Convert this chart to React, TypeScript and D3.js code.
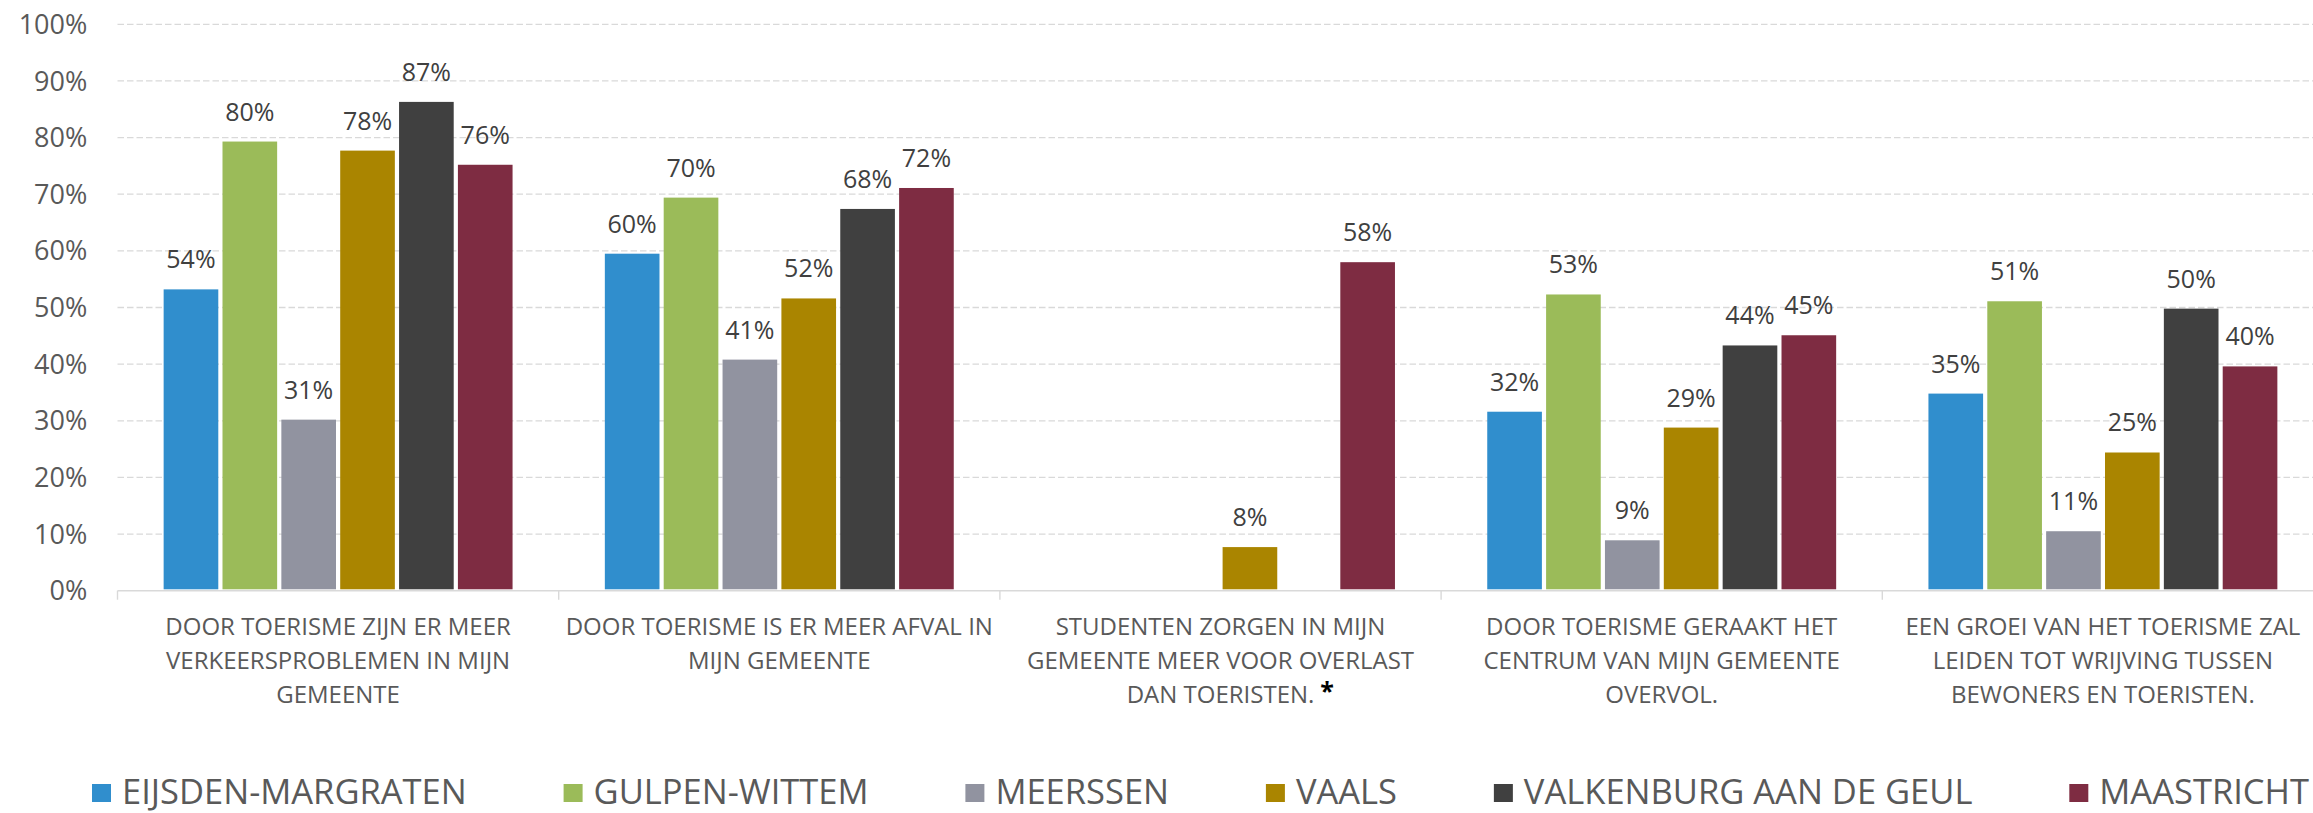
import * as d3 from "d3";
import { useEffect, useRef } from "react";

// category labels, already split in lines like the source chart
const categories = [
  ["DOOR TOERISME ZIJN ER MEER", "VERKEERSPROBLEMEN IN MIJN", "GEMEENTE"],
  ["DOOR TOERISME IS ER MEER AFVAL IN", "MIJN GEMEENTE"],
  ["STUDENTEN ZORGEN IN MIJN", "GEMEENTE MEER VOOR OVERLAST", "DAN TOERISTEN."],
  ["DOOR TOERISME GERAAKT HET", "CENTRUM VAN MIJN GEMEENTE", "OVERVOL."],
  ["EEN GROEI VAN HET TOERISME ZAL", "LEIDEN TOT WRIJVING TUSSEN", "BEWONERS EN TOERISTEN."],
];

const seriesNames = [
  "EIJSDEN-MARGRATEN",
  "GULPEN-WITTEM",
  "MEERSSEN",
  "VAALS",
  "VALKENBURG AAN DE GEUL",
  "MAASTRICHT",
];
const seriesColors = ["#308ECD", "#9BBB59", "#9193A0", "#AA8500", "#404040", "#7E2C42"];

// bar heights (share of respondents), null = no bar
const eijsden = [0.532, 0.595, null, 0.316, 0.348];
const gulpen = [0.793, 0.694, null, 0.523, 0.511];
const meerssen = [0.302, 0.408, null, 0.089, 0.105];
const vaals = [0.777, 0.516, 0.077, 0.288, 0.244];
const valkenburg = [0.863, 0.674, null, 0.433, 0.498];
const maastricht = [0.752, 0.711, 0.58, 0.451, 0.396];

// data labels as printed on the chart
const eijsdenLabels = ["54%", "60%", null, "32%", "35%"];
const gulpenLabels = ["80%", "70%", null, "53%", "51%"];
const meerssenLabels = ["31%", "41%", null, "9%", "11%"];
const vaalsLabels = ["78%", "52%", "8%", "29%", "25%"];
const valkenburgLabels = ["87%", "68%", null, "44%", "50%"];
const maastrichtLabels = ["76%", "72%", "58%", "45%", "40%"];

const yTicks = [0, 0.1, 0.2, 0.3, 0.4, 0.5, 0.6, 0.7, 0.8, 0.9, 1];

const WIDTH = 2313;
const HEIGHT = 813;
const FONT = "'Open Sans', 'DejaVu Sans', sans-serif";

export default function App() {
  const svgRef = useRef<SVGSVGElement>(null);

  useEffect(() => {
    document.body.style.margin = "0";
    const svg = d3.select(svgRef.current);
    svg.selectAll("*").remove();
    svg.attr("width", WIDTH).attr("height", HEIGHT).style("font-family", FONT);

    const values = [eijsden, gulpen, meerssen, vaals, valkenburg, maastricht];
    const labels = [eijsdenLabels, gulpenLabels, meerssenLabels, vaalsLabels, valkenburgLabels, maastrichtLabels];

    const plot = { left: 117.5, right: 2323.5, top: 24.3, bottom: 590.7 };

    const y = d3.scaleLinear().domain([0, 1]).range([plot.bottom, plot.top]);
    const x0 = d3
      .scaleBand<number>()
      .domain(d3.range(categories.length))
      .range([plot.left, plot.right])
      .padding(0);
    const x1 = d3
      .scaleBand<number>()
      .domain(d3.range(seriesNames.length))
      .range([0, x0.bandwidth()])
      .paddingInner(0.0714)
      .paddingOuter(0.784);

    // gridlines
    svg
      .append("g")
      .selectAll("line")
      .data(yTicks.filter((t) => t > 0))
      .enter()
      .append("line")
      .attr("x1", plot.left)
      .attr("x2", WIDTH)
      .attr("y1", (d) => y(d))
      .attr("y2", (d) => y(d))
      .attr("stroke", "#D9D9D9")
      .attr("stroke-width", 1.3)
      .attr("stroke-dasharray", "6.5,3");

    // y tick labels
    svg
      .append("g")
      .selectAll("text")
      .data(yTicks)
      .enter()
      .append("text")
      .attr("x", 87.3)
      .attr("y", (d) => y(d) + 27 * 0.357)
      .attr("text-anchor", "end")
      .attr("font-size", 27)
      .attr("fill", "#595959")
      .text((d) => d3.format(".0%")(d));

    // bars
    const groups = svg
      .append("g")
      .selectAll("g")
      .data(seriesNames)
      .enter()
      .append("g")
      .attr("fill", (_, i) => seriesColors[i]);

    groups.each(function (_, si) {
      const g = d3.select(this);
      const pts = values[si]
        .map((v, ci) => ({ v, ci, label: labels[si][ci] }))
        .filter((d) => d.v !== null) as { v: number; ci: number; label: string }[];
      g.selectAll("rect")
        .data(pts)
        .enter()
        .append("rect")
        .attr("x", (d) => (x0(d.ci) ?? 0) + (x1(si) ?? 0))
        .attr("y", (d) => y(d.v))
        .attr("width", x1.bandwidth())
        .attr("height", (d) => plot.bottom - 1.4 - y(d.v));
    });

    // x axis line and category separators
    svg
      .append("line")
      .attr("x1", plot.left)
      .attr("x2", WIDTH)
      .attr("y1", plot.bottom)
      .attr("y2", plot.bottom)
      .attr("stroke", "#D9D9D9")
      .attr("stroke-width", 1.4);
    svg
      .append("g")
      .selectAll("line")
      .data(d3.range(categories.length + 1))
      .enter()
      .append("line")
      .attr("x1", (d) => plot.left + d * x0.step())
      .attr("x2", (d) => plot.left + d * x0.step())
      .attr("y1", plot.bottom)
      .attr("y2", plot.bottom + 9)
      .attr("stroke", "#D9D9D9")
      .attr("stroke-width", 1.4);

    // data labels
    groups.each(function (_, si) {
      const g = d3.select(svgRef.current).append("g");
      const pts = values[si]
        .map((v, ci) => ({ v, ci, label: labels[si][ci] }))
        .filter((d) => d.v !== null) as { v: number; ci: number; label: string }[];
      g.selectAll("text")
        .data(pts)
        .enter()
        .append("text")
        .attr("x", (d) => (x0(d.ci) ?? 0) + (x1(si) ?? 0) + x1.bandwidth() / 2)
        .attr("y", (d) => y(d.v) - 21)
        .attr("text-anchor", "middle")
        .attr("font-size", 25)
        .attr("fill", "#404040")
        .text((d) => d.label);
    });

    // category labels
    const cat = svg
      .append("g")
      .selectAll("text")
      .data(categories)
      .enter()
      .append("text")
      .attr("text-anchor", "middle")
      .attr("font-size", 24)
      .attr("fill", "#595959");
    cat
      .selectAll("tspan")
      .data((d, i) => d.map((line) => ({ line, i })))
      .enter()
      .append("tspan")
      .attr("x", (d) => (x0(d.i) ?? 0) + x0.bandwidth() / 2)
      .attr("y", (_, j) => plot.bottom + 44.3 + j * 34)
      .text((d) => d.line);

    // footnote asterisk after the third category
    const thirdLast = cat
      .filter((_, i) => i === 2)
      .selectAll<SVGTSpanElement, unknown>("tspan")
      .nodes()
      .pop();
    if (thirdLast) {
      const bb = thirdLast.getBBox();
      svg
        .append("text")
        .attr("x", bb.x + bb.width + 6)
        .attr("y", plot.bottom + 44.3 + 2 * 34 - 3)
        .attr("font-size", 25)
        .attr("font-weight", "bold")
        .attr("fill", "#000")
        .text("*");
    }

    // legend: measure the names first, then spread the items between
    // the left start and the right edge of the picture
    const legend = svg.append("g");
    const legendLeft = 92;
    const legendRight = 2309;
    const texts = seriesNames.map((name) =>
      legend
        .append("text")
        .attr("y", 803.5)
        .attr("font-size", 34.5)
        .attr("fill", "#595959")
        .text(name)
    );
    const widths = texts.map((t) => (t.node() as SVGTextElement).getComputedTextLength());
    const gap =
      (legendRight - legendLeft - d3.sum(widths) - 30 * seriesNames.length) /
      (seriesNames.length - 1);
    let lx = legendLeft;
    seriesNames.forEach((_, i) => {
      legend
        .append("rect")
        .attr("x", lx)
        .attr("y", 784)
        .attr("width", 19)
        .attr("height", 18)
        .attr("fill", seriesColors[i]);
      texts[i].attr("x", lx + 30);
      lx += 30 + widths[i] + gap;
    });
  }, []);

  return <svg ref={svgRef} style={{ display: "block" }} />;
}
